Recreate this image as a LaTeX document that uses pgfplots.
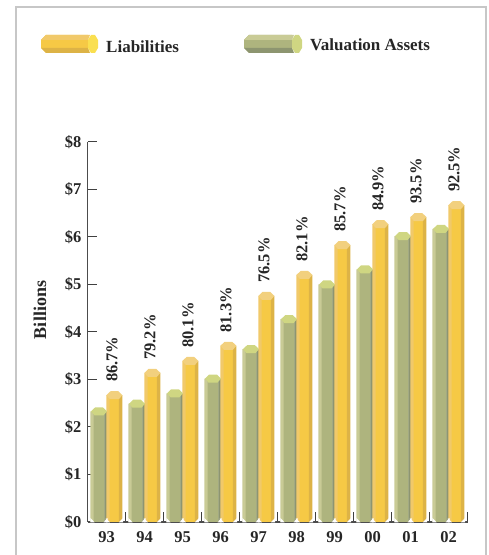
\documentclass[border=0pt]{standalone}
\usepackage{pgfplots}
\pgfplotsset{compat=1.18}
\usepackage{pgfplotstable}
\usepackage{fontspec}
\setmainfont{Liberation Serif}
\definecolor{gL}{HTML}{C9CB96}
\definecolor{gM}{HTML}{AEB47E}
\definecolor{gD}{HTML}{8D9570}
\definecolor{gT}{HTML}{CFD682}
\definecolor{yL}{HTML}{F1C96A}
\definecolor{yM}{HTML}{F6C945}
\definecolor{yD}{HTML}{DDB346}
\definecolor{yT}{HTML}{F2D07E}
\definecolor{yC}{HTML}{FADF50}
\pgfdeclareplotmark{hextop}{%
  \pgfpathmoveto{\pgfqpoint{-8bp}{0bp}}%
  \pgfpathlineto{\pgfqpoint{-3.8bp}{4bp}}%
  \pgfpathlineto{\pgfqpoint{3.8bp}{4bp}}%
  \pgfpathlineto{\pgfqpoint{8bp}{0bp}}%
  \pgfpathlineto{\pgfqpoint{4.5bp}{-4bp}}%
  \pgfpathlineto{\pgfqpoint{-4.5bp}{-4bp}}%
  \pgfpathclose\pgfusepathqfill}
\pgfdeclareplotmark{hexbot}{%
  \pgfpathmoveto{\pgfqpoint{-8.6bp}{-0.3bp}}%
  \pgfpathlineto{\pgfqpoint{-8.6bp}{4bp}}%
  \pgfpathlineto{\pgfqpoint{-4.5bp}{-0.3bp}}%
  \pgfpathclose
  \pgfpathmoveto{\pgfqpoint{8.6bp}{-0.3bp}}%
  \pgfpathlineto{\pgfqpoint{8.6bp}{4bp}}%
  \pgfpathlineto{\pgfqpoint{4.5bp}{-0.3bp}}%
  \pgfpathclose\pgfusepathqfill}
\pgfplotstableread{
x    g    l    lab
0.5  2.33 2.67 86.7\%
1.5  2.49 3.14 79.2\%
2.5  2.71 3.39 80.1\%
3.5  3.02 3.71 81.3\%
4.5  3.64 4.76 76.5\%
5.5  4.27 5.20 82.1\%
6.5  5.00 5.83 85.7\%
7.5  5.32 6.27 84.9\%
8.5  6.02 6.42 93.5\%
9.5  6.17 6.67 92.5\%
}\data
\pgfplotsset{
  strip/.style n args={3}{ybar, bar width=#1bp, bar shift=#2bp, fill=#3, draw=none, forget plot},
  marks/.style n args={3}{only marks, mark=#1, mark size=1, mark options={fill=#3, draw=none, xshift=#2bp}, forget plot},
}
\begin{document}
\begin{tikzpicture}[x=1bp,y=1bp]
\useasboundingbox (0,0) rectangle (489,555);
\draw[color=black!22, line width=1.4bp] (16,0) -- (16,548) -- (486,548) -- (486,0);
% legend keys
\fill[yM] (41,555-40) -- (41,555-48) -- (46,555-53) -- (88,555-53) -- (88,555-35) -- (46,555-35) -- cycle;
\fill[yL] (41,555-40) -- (46,555-35) -- (90,555-35) -- (88,555-40) -- cycle;
\fill[yD] (41,555-48) -- (46,555-53) -- (90,555-53) -- (88,555-48) -- cycle;
\fill[yC] (88,555-40) -- (91,555-35) -- (95,555-35) -- (98,555-40) -- (98,555-48) -- (95,555-53) -- (91,555-53) -- (88,555-48) -- cycle;
\fill[gM] (244,555-40) -- (244,555-48) -- (249,555-53) -- (292,555-53) -- (292,555-35) -- (249,555-35) -- cycle;
\fill[gL] (244,555-40) -- (249,555-35) -- (294,555-35) -- (292,555-40) -- cycle;
\fill[gD] (244,555-48) -- (249,555-53) -- (294,555-53) -- (292,555-48) -- cycle;
\fill[gT] (292,555-40) -- (295,555-35) -- (299,555-35) -- (302,555-40) -- (302,555-48) -- (299,555-53) -- (295,555-53) -- (292,555-48) -- cycle;
\node[anchor=base west, font=\fontsize{17bp}{18bp}\selectfont\bfseries, text=black!85, inner sep=0] at (106,555-53) {Liabilities};
\node[anchor=base west, font=\fontsize{17bp}{18bp}\selectfont\bfseries, text=black!85, inner sep=0] at (310,555-51) {Valuation Assets};
\node[rotate=90, font=\fontsize{18bp}{19bp}\selectfont\bfseries, text=black!85, inner sep=0] at (40,555-310) {Billions};
\begin{axis}[
  at={(87.5bp,33bp)}, anchor=origin,
  scale only axis, width=380bp, height=380bp,
  xmin=0, xmax=10, ymin=0, ymax=8,
  clip=false,
  axis lines=left, axis line style={-, line width=1.2bp, color=black!70},
  tick style={line width=1bp, color=black!75},
  major tick length=9.5bp,
  tick align=inside,
  xtick={0,...,10}, xticklabels={},
  extra x ticks={0.5,1.5,...,9.5},
  extra x tick labels={93,94,95,96,97,98,99,00,01,02},
  extra x tick style={major tick length=0bp, tick style={draw=none}},
  ytick={0,...,8},
  yticklabels={\$0,\$1,\$2,\$3,\$4,\$5,\$6,\$7,\$8},
  tick label style={font=\fontsize{16.5bp}{18bp}\selectfont\bfseries, text=black!85},
  x tick label style={yshift=-6bp},
  y tick label style={xshift=-2.5bp},
  enlargelimits=false,
]
% valuation assets
\addplot[strip={3.5}{-14.3}{gL}] table[x=x,y=g]{\data};
\addplot[strip={11}{-7.3}{gM}] table[x=x,y=g]{\data};
\addplot[strip={3.5}{-0.3}{gD}] table[x=x,y=g]{\data};
\addplot[marks={hexbot}{-7.5}{white}] table[x=x,y expr=0]{\data};
\addplot[marks={hextop}{-7.5}{gT}] table[x=x,y=g]{\data};
% liabilities
\addplot[strip={3.5}{1.7}{yL}] table[x=x,y=l]{\data};
\addplot[strip={11}{8.7}{yM}] table[x=x,y=l]{\data};
\addplot[strip={3.5}{14}{yD}] table[x=x,y=l]{\data};
\addplot[marks={hexbot}{7.9}{white}] table[x=x,y expr=0]{\data};
\addplot[marks={hextop}{7.9}{yT}] table[x=x,y=l]{\data};
% percentage labels
\addplot[only marks, mark=none, forget plot,
  point meta=explicit symbolic,
  nodes near coords,
  every node near coord/.style={rotate=90, anchor=west, xshift=13bp, yshift=-5.5bp, inner sep=0, 
    font=\fontsize{16.5bp}{17bp}\selectfont\bfseries, text=black!85}]
  table[x=x,y=l,meta=lab]{\data};
\end{axis}
\end{tikzpicture}
\end{document}
